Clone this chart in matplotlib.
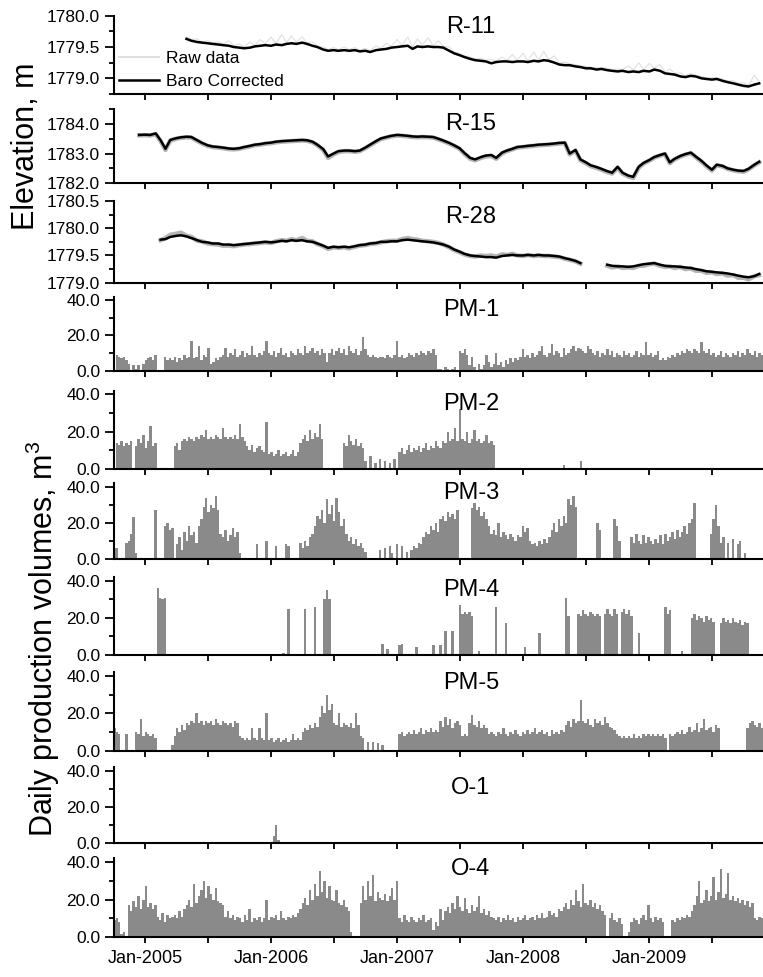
import numpy as np
import pandas as pd
import matplotlib
matplotlib.use('Agg')
from matplotlib import pyplot as plt
from matplotlib.ticker import MultipleLocator, FormatStrFormatter

plt.rcParams['font.family'] = ['Liberation Sans', 'DejaVu Sans']
plt.rcParams['mathtext.fontset'] = 'custom'
plt.rcParams['mathtext.rm'] = 'Liberation Sans'

# ---------------------------------------------------------------- water levels
# semi-monthly readings (1st and 15th of each month), elevation in m
r11_start, r11_end = '2005-05-01', '2009-11-15'
r11_baro = [
    1779.63, 1779.60, 1779.58, 1779.57, 1779.56, 1779.55, 1779.54, 1779.53, 1779.52, 1779.50, 1779.49, 1779.48,
    1779.49, 1779.51, 1779.52, 1779.53,
    1779.52, 1779.54, 1779.53, 1779.55, 1779.56, 1779.55, 1779.57, 1779.55, 1779.52, 1779.50, 1779.46, 1779.44,
    1779.45, 1779.44, 1779.45, 1779.44, 1779.45, 1779.43, 1779.44, 1779.42, 1779.45, 1779.46, 1779.47, 1779.49,
    1779.50, 1779.51, 1779.52, 1779.47, 1779.51, 1779.50, 1779.51, 1779.50, 1779.50, 1779.49, 1779.44, 1779.40,
    1779.37, 1779.34, 1779.31, 1779.29, 1779.28, 1779.27, 1779.24, 1779.26, 1779.27, 1779.27, 1779.26, 1779.27,
    1779.27, 1779.26, 1779.28, 1779.27, 1779.29, 1779.28, 1779.25, 1779.22, 1779.21, 1779.21, 1779.19, 1779.18,
    1779.16, 1779.16, 1779.14, 1779.15, 1779.13, 1779.12, 1779.11, 1779.12, 1779.10, 1779.11, 1779.10, 1779.12,
    1779.11, 1779.14, 1779.12, 1779.08, 1779.07, 1779.06, 1779.03, 1779.02, 1779.04, 1779.03, 1779.00, 1778.99,
    1778.98, 1778.99, 1778.96, 1778.94, 1778.92, 1778.90, 1778.88, 1778.87, 1778.90, 1778.92,
]
r11_raw = [
    1779.66, 1779.62, 1779.63, 1779.58, 1779.60, 1779.57, 1779.58, 1779.55, 1779.60, 1779.52, 1779.55, 1779.50,
    1779.58, 1779.53, 1779.62, 1779.55,
    1779.66, 1779.56, 1779.70, 1779.57, 1779.68, 1779.58, 1779.66, 1779.57, 1779.58, 1779.52, 1779.50, 1779.46,
    1779.49, 1779.46, 1779.50, 1779.46, 1779.49, 1779.45, 1779.48, 1779.44, 1779.52, 1779.48, 1779.56, 1779.51,
    1779.62, 1779.53, 1779.66, 1779.50, 1779.63, 1779.53, 1779.65, 1779.52, 1779.60, 1779.51, 1779.50, 1779.42,
    1779.40, 1779.36, 1779.34, 1779.31, 1779.32, 1779.29, 1779.30, 1779.28, 1779.34, 1779.29, 1779.38, 1779.29,
    1779.40, 1779.28, 1779.42, 1779.29, 1779.43, 1779.30, 1779.36, 1779.24, 1779.26, 1779.23, 1779.22, 1779.20,
    1779.19, 1779.18, 1779.17, 1779.17, 1779.16, 1779.14, 1779.15, 1779.14, 1779.20, 1779.13, 1779.25, 1779.14,
    1779.24, 1779.16, 1779.22, 1779.10, 1779.15, 1779.08, 1779.09, 1779.04, 1779.08, 1779.05, 1779.03, 1779.01,
    1779.01, 1779.01, 1778.99, 1778.96, 1778.96, 1778.92, 1778.93, 1778.89, 1779.05, 1778.94,
]

r15_start, r15_end = '2004-12-15', '2009-11-15'
r15_baro = [
    1783.63,
    1783.64, 1783.63, 1783.68, 1783.45, 1783.16, 1783.46, 1783.52, 1783.55, 1783.57, 1783.56, 1783.45, 1783.36,
    1783.28, 1783.24, 1783.22, 1783.20, 1783.17, 1783.16, 1783.18, 1783.22, 1783.26, 1783.30, 1783.32, 1783.35,
    1783.37, 1783.40, 1783.42, 1783.43, 1783.44, 1783.45, 1783.46, 1783.45, 1783.40, 1783.30, 1783.15, 1782.90,
    1783.00, 1783.08, 1783.10, 1783.10, 1783.08, 1783.10, 1783.20, 1783.30, 1783.42, 1783.51, 1783.56, 1783.60,
    1783.63, 1783.62, 1783.60, 1783.58, 1783.57, 1783.58, 1783.57, 1783.56, 1783.50, 1783.44, 1783.36, 1783.28,
    1783.18, 1783.02, 1782.85, 1782.80, 1782.88, 1782.93, 1782.95, 1782.85, 1783.03, 1783.10, 1783.16, 1783.22,
    1783.24, 1783.26, 1783.28, 1783.30, 1783.31, 1783.32, 1783.34, 1783.36, 1783.37, 1783.00, 1783.12, 1782.80,
    1782.70, 1782.60, 1782.54, 1782.48, 1782.40, 1782.35, 1782.55, 1782.35, 1782.25, 1782.21, 1782.55, 1782.68,
    1782.78, 1782.88, 1782.95, 1783.00, 1782.70, 1782.82, 1782.92, 1782.98, 1783.03, 1782.90, 1782.75, 1782.60,
    1782.45, 1782.62, 1782.58, 1782.50, 1782.45, 1782.42, 1782.41, 1782.48, 1782.62, 1782.72,
]
r15_raw = [
    1783.62,
    1783.62, 1783.61, 1783.66, 1783.42, 1783.12, 1783.44, 1783.50, 1783.53, 1783.55, 1783.54, 1783.43, 1783.34,
    1783.26, 1783.22, 1783.20, 1783.18, 1783.15, 1783.14, 1783.16, 1783.20, 1783.24, 1783.28, 1783.30, 1783.33,
    1783.35, 1783.38, 1783.40, 1783.41, 1783.42, 1783.43, 1783.44, 1783.43, 1783.38, 1783.28, 1783.12, 1782.85,
    1782.97, 1783.05, 1783.08, 1783.08, 1783.06, 1783.08, 1783.18, 1783.28, 1783.40, 1783.49, 1783.54, 1783.58,
    1783.61, 1783.60, 1783.58, 1783.56, 1783.55, 1783.56, 1783.55, 1783.54, 1783.48, 1783.42, 1783.34, 1783.26,
    1783.16, 1782.99, 1782.82, 1782.77, 1782.85, 1782.90, 1782.92, 1782.82, 1783.00, 1783.08, 1783.14, 1783.20,
    1783.22, 1783.24, 1783.26, 1783.28, 1783.29, 1783.30, 1783.32, 1783.34, 1783.35, 1782.97, 1783.10, 1782.77,
    1782.67, 1782.57, 1782.51, 1782.45, 1782.37, 1782.32, 1782.52, 1782.32, 1782.22, 1782.17, 1782.52, 1782.66,
    1782.76, 1782.86, 1782.93, 1782.98, 1782.67, 1782.80, 1782.90, 1782.96, 1783.01, 1782.88, 1782.72, 1782.57,
    1782.42, 1782.60, 1782.56, 1782.48, 1782.43, 1782.40, 1782.38, 1782.46, 1782.60, 1782.70,
]

nan = np.nan
r28_start, r28_end = '2005-02-15', '2009-11-15'
r28_baro = [
    1779.79, 1779.80, 1779.84, 1779.86, 1779.87, 1779.85, 1779.82, 1779.78, 1779.75, 1779.74, 1779.72, 1779.72,
    1779.70, 1779.70, 1779.69, 1779.70, 1779.71, 1779.72, 1779.73, 1779.74, 1779.75,
    1779.74, 1779.75, 1779.77, 1779.76, 1779.78, 1779.77, 1779.78, 1779.76, 1779.75, 1779.72, 1779.68, 1779.64,
    1779.66, 1779.65, 1779.66, 1779.65, 1779.67, 1779.69, 1779.70, 1779.72, 1779.73, 1779.75, 1779.75, 1779.76,
    1779.76, 1779.78, 1779.79, 1779.78, 1779.77, 1779.76, 1779.75, 1779.74, 1779.72, 1779.70, 1779.66, 1779.61,
    1779.57, 1779.53, 1779.50, 1779.49, 1779.48, 1779.47, 1779.47, 1779.46, 1779.49, 1779.50, 1779.51, 1779.50,
    1779.50, 1779.51, 1779.50, 1779.51, 1779.50, 1779.50, 1779.49, 1779.48, 1779.45, 1779.43, 1779.40, 1779.36,
    nan, nan, nan, nan, 1779.33, 1779.31, 1779.30, 1779.30, 1779.29, 1779.30, 1779.32, 1779.34,
    1779.35, 1779.36, 1779.33, 1779.31, 1779.30, 1779.30, 1779.29, 1779.28, 1779.27, 1779.25, 1779.23, 1779.21,
    1779.20, 1779.19, 1779.18, 1779.17, 1779.15, 1779.13, 1779.11, 1779.10, 1779.12, 1779.16,
]
r28_raw = [
    1779.78, 1779.82, 1779.88, 1779.90, 1779.92, 1779.86, 1779.84, 1779.77, 1779.76, 1779.72, 1779.71, 1779.70,
    1779.68, 1779.68, 1779.67, 1779.69, 1779.70, 1779.71, 1779.72, 1779.73, 1779.74,
    1779.73, 1779.76, 1779.78, 1779.77, 1779.80, 1779.78, 1779.82, 1779.77, 1779.76, 1779.71, 1779.67, 1779.62,
    1779.65, 1779.64, 1779.65, 1779.63, 1779.66, 1779.68, 1779.69, 1779.71, 1779.72, 1779.74, 1779.76, 1779.77,
    1779.77, 1779.80, 1779.82, 1779.80, 1779.79, 1779.77, 1779.76, 1779.75, 1779.73, 1779.70, 1779.65, 1779.60,
    1779.56, 1779.52, 1779.49, 1779.48, 1779.50, 1779.49, 1779.50, 1779.48, 1779.52, 1779.51, 1779.53, 1779.50,
    1779.49, 1779.51, 1779.49, 1779.50, 1779.49, 1779.49, 1779.48, 1779.47, 1779.44, 1779.42, 1779.39, 1779.35,
    nan, nan, nan, nan, 1779.31, 1779.28, 1779.30, 1779.27, 1779.28, 1779.27, 1779.31, 1779.31,
    1779.34, 1779.35, 1779.31, 1779.29, 1779.30, 1779.27, 1779.29, 1779.25, 1779.26, 1779.22, 1779.22, 1779.18,
    1779.19, 1779.16, 1779.17, 1779.13, 1779.14, 1779.09, 1779.09, 1779.06, 1779.12, 1779.14,
]

# ---------------------------------------------------------------- production
# weekly values (m3/day), first week starts 2004-10-04, 269 weeks
WEEK0, WEEK_END = '2004-10-04', '2009-11-24'
pm1 = [
    0, 9, 8, 7, 8, 6, 4, 0, 3, 1, 3, 0, 4,
    6, 7, 8, 6, 9, 0, 0, 0, 8, 6, 7, 6, 8,
    5, 7, 6, 9, 7, 8, 17, 7, 8, 14, 6, 9, 8,
    13, 4, 5, 7, 6, 8, 9, 13, 8, 10, 9, 12, 8,
    9, 11, 8, 10, 9, 14, 9, 8, 10, 9, 11, 17, 10,
    9, 11, 8, 10, 13, 9, 10, 8, 11, 10, 9, 12, 10,
    9, 14, 10, 11, 13, 10, 11, 9, 12, 10, 5, 10, 12,
    9, 11, 13, 10, 12, 9, 14, 11, 10, 12, 9, 11, 19,
    12, 9, 8, 9, 8, 7, 8, 8, 7, 9, 8, 7, 9,
    17, 8, 9, 7, 8, 10, 9, 8, 10, 9, 11, 10, 9,
    11, 10, 12, 9, 1, 1, 0, 2, 1, 0, 1, 2, 0,
    11, 10, 12, 9, 3, 8, 2, 0, 4, 1, 3, 9, 5,
    2, 4, 10, 3, 5, 2, 6, 4, 7, 5, 7, 6, 8,
    12, 8, 9, 7, 10, 8, 9, 11, 14, 9, 8, 10, 15,
    9, 11, 10, 8, 13, 9, 10, 12, 14, 11, 13, 12, 11,
    10, 14, 12, 10, 9, 11, 8, 10, 9, 12, 9, 11, 8,
    10, 9, 8, 11, 9, 10, 8, 9, 11, 8, 10, 9, 16,
    9, 10, 8, 9, 11, 6, 7, 6, 8, 7, 9, 8, 10,
    9, 11, 10, 12, 11, 10, 12, 11, 10, 16, 11, 10, 12,
    9, 10, 8, 9, 11, 8, 10, 9, 8, 10, 9, 11, 8,
    10, 9, 12, 10, 9, 11, 8, 10, 9,
]
pm2 = [
    0, 14, 13, 15, 12, 14, 13, 15, 0, 12, 16, 14, 18,
    11, 15, 23, 12, 14, 0, 0, 0, 0, 0, 0, 0, 12,
    14, 10, 15, 16, 15, 17, 16, 15, 17, 16, 18, 17, 21,
    16, 17, 16, 18, 17, 16, 22, 17, 16, 17, 16, 18, 16,
    24, 17, 15, 12, 10, 13, 9, 11, 12, 10, 9, 25, 8,
    9, 7, 8, 10, 7, 8, 9, 7, 8, 10, 7, 9, 14,
    16, 18, 15, 21, 16, 19, 17, 24, 16, 0, 0, 0, 0,
    0, 0, 0, 0, 14, 12, 18, 15, 13, 16, 12, 14, 11,
    4, 0, 7, 0, 3, 0, 5, 0, 4, 0, 3, 0, 5,
    0, 9, 11, 8, 10, 13, 9, 11, 10, 12, 9, 11, 14,
    10, 12, 11, 15, 12, 11, 15, 14, 20, 15, 16, 22, 15,
    32, 16, 15, 20, 14, 16, 21, 15, 16, 14, 15, 18, 14,
    15, 13, 0, 0, 0, 0, 0, 0, 0, 0, 0, 0, 0,
    0, 0, 0, 0, 0, 0, 0, 0, 0, 0, 0, 0, 0,
    0, 0, 0, 0, 2, 0, 0, 0, 0, 0, 0, 4, 0,
    0, 0, 0, 0, 0, 0, 0, 0, 0, 0, 0, 0, 0,
    0, 0, 0, 0, 0, 0, 0, 0, 0, 0, 0, 0, 0,
    0, 0, 0, 0, 0, 0, 0, 0, 0, 0, 0, 0, 0,
    0, 0, 0, 0, 0, 0, 0, 0, 0, 0, 0, 0, 0,
    0, 0, 0, 0, 0, 0, 0, 0, 0, 0, 0, 0, 0,
    0, 0, 0, 0, 0, 0, 0, 0, 0,
]
pm3 = [
    6, 6, 0, 0, 0, 9, 10, 14, 23, 3, 0, 0, 0,
    0, 0, 0, 0, 27, 0, 0, 0, 18, 20, 16, 17, 0,
    8, 12, 5, 15, 10, 18, 13, 15, 9, 18, 22, 29, 34,
    26, 30, 28, 35, 27, 14, 12, 16, 10, 13, 17, 12, 15,
    3, 0, 0, 0, 0, 0, 0, 8, 0, 0, 0, 10, 0,
    0, 0, 7, 0, 0, 0, 8, 7, 0, 0, 0, 0, 9,
    6, 10, 7, 12, 14, 18, 24, 22, 27, 20, 33, 25, 30,
    21, 34, 26, 18, 22, 14, 10, 12, 8, 11, 7, 9, 6,
    4, 0, 0, 0, 0, 0, 5, 0, 6, 0, 7, 3, 0,
    8, 0, 7, 0, 4, 0, 5, 7, 6, 9, 8, 12, 15,
    14, 18, 16, 20, 15, 22, 24, 21, 26, 23, 25, 22, 27,
    0, 0, 0, 0, 0, 28, 31, 27, 29, 24, 26, 22, 18,
    14, 16, 13, 20, 12, 15, 13, 11, 14, 12, 10, 13, 12,
    18, 15, 17, 10, 8, 9, 7, 10, 8, 11, 9, 12, 16,
    20, 15, 22, 18, 24, 20, 33, 30, 35, 29, 0, 0, 0,
    0, 0, 0, 0, 0, 20, 16, 0, 0, 0, 0, 0, 22,
    18, 10, 0, 0, 0, 0, 12, 9, 14, 10, 8, 13, 9,
    12, 10, 8, 11, 9, 13, 8, 14, 10, 12, 15, 11, 16,
    12, 15, 18, 14, 20, 22, 31, 0, 0, 0, 0, 0, 0,
    14, 22, 30, 18, 9, 12, 0, 9, 0, 11, 0, 8, 10,
    0, 3, 0, 0, 0, 0, 0, 0, 0,
]
pm4 = [
    0, 0, 0, 0, 0, 0, 0, 0, 0, 0, 0, 0, 0,
    0, 0, 0, 0, 0, 36, 31, 30, 31, 0, 0, 0, 0,
    0, 0, 0, 0, 0, 0, 0, 0, 0, 0, 0, 0, 0,
    0, 0, 0, 0, 0, 0, 0, 0, 0, 0, 0, 0, 0,
    0, 0, 0, 0, 0, 0, 0, 0, 0, 0, 0, 0, 0,
    0, 0, 0, 0, 0, 1, 0, 25, 0, 0, 0, 0, 0,
    0, 25, 0, 0, 0, 26, 0, 0, 0, 30, 35, 30, 0,
    0, 0, 0, 0, 0, 0, 0, 0, 0, 0, 0, 0, 0,
    0, 0, 0, 0, 0, 0, 0, 6, 0, 3, 0, 0, 0,
    0, 5, 6, 0, 0, 0, 0, 0, 4, 0, 0, 0, 0,
    0, 0, 5, 0, 0, 5, 0, 13, 0, 0, 13, 0, 0,
    27, 22, 23, 22, 23, 21, 0, 0, 2, 0, 0, 0, 0,
    0, 0, 26, 0, 0, 0, 17, 0, 0, 0, 0, 0, 0,
    0, 4, 0, 0, 0, 0, 0, 12, 0, 0, 0, 0, 0,
    0, 0, 0, 0, 0, 31, 21, 0, 0, 0, 22, 21, 24,
    22, 21, 23, 22, 21, 22, 21, 0, 22, 25, 22, 21, 25,
    22, 0, 23, 25, 22, 24, 21, 0, 0, 12, 0, 0, 0,
    0, 0, 0, 0, 0, 0, 0, 26, 22, 24, 0, 0, 0,
    0, 2, 0, 0, 0, 20, 22, 19, 21, 20, 18, 21, 19,
    20, 18, 0, 0, 17, 20, 18, 19, 17, 20, 18, 17, 19,
    16, 18, 17, 0, 0, 0, 0, 0, 0,
]
pm5 = [
    12, 10, 9, 0, 0, 9, 0, 0, 0, 10, 9, 17, 8,
    10, 9, 8, 9, 7, 0, 0, 0, 0, 0, 0, 3, 8,
    12, 10, 14, 11, 15, 14, 16, 15, 20, 15, 16, 14, 16,
    15, 16, 14, 17, 15, 14, 16, 15, 14, 15, 13, 16, 15,
    8, 7, 6, 7, 6, 12, 7, 6, 12, 7, 6, 20, 6,
    7, 5, 6, 7, 5, 6, 7, 5, 6, 9, 6, 7, 6,
    10, 12, 11, 14, 12, 15, 13, 18, 24, 20, 30, 22, 25,
    15, 14, 20, 13, 15, 14, 13, 15, 12, 20, 14, 8, 7,
    0, 5, 0, 5, 0, 4, 0, 3, 0, 0, 0, 0, 0,
    0, 9, 10, 8, 9, 10, 9, 11, 9, 10, 12, 9, 11,
    10, 12, 10, 11, 10, 16, 13, 18, 14, 17, 12, 15, 16,
    14, 8, 9, 8, 15, 19, 14, 13, 16, 12, 14, 12, 9,
    10, 9, 8, 10, 9, 12, 9, 8, 10, 9, 11, 9, 8,
    10, 9, 11, 9, 10, 12, 9, 10, 11, 9, 10, 8, 11,
    9, 10, 9, 11, 10, 14, 16, 13, 17, 15, 16, 27, 16,
    15, 17, 14, 13, 17, 15, 16, 14, 18, 15, 13, 12, 11,
    9, 8, 7, 8, 7, 8, 7, 9, 7, 8, 7, 9, 8,
    9, 8, 9, 8, 9, 8, 9, 7, 0, 9, 8, 9, 10,
    9, 11, 9, 10, 13, 10, 11, 15, 10, 12, 17, 11, 12,
    13, 10, 14, 12, 0, 0, 0, 0, 0, 0, 0, 0, 0,
    0, 0, 12, 15, 16, 14, 13, 15, 12,
]
o1 = [
    0, 0, 0, 0, 0, 0, 0.4, 0, 0, 0, 0, 0, 0,
    0, 0, 0, 0, 0, 0, 0, 0, 0, 0, 0, 0.4, 0,
    0, 0, 0, 0, 0, 0, 0, 0, 0, 0, 0, 0, 0,
    0, 0, 0, 0, 0, 0, 0.4, 0, 0, 0, 0, 0, 0,
    0, 0, 0, 0, 0, 0, 0, 0, 0, 0, 0, 0, 0,
    0, 4, 10, 2, 0, 0, 0, 0, 0, 0, 0, 0, 0,
    0, 0, 0, 0, 0, 0, 0, 0, 0, 0, 0, 0, 0,
    0, 0, 0, 0, 0, 0, 0, 0, 0, 0, 0, 0, 0,
    0, 0, 0, 0, 0, 0, 0, 0, 0, 0, 0, 0, 0,
    0, 0, 0, 0, 0, 0, 0, 0, 0, 0, 0, 0, 0,
    0, 0, 0, 0, 0, 0, 0, 0, 0, 0, 0, 0, 0,
    0, 0, 0, 0, 0, 0, 0, 0, 0, 0, 0, 0, 0,
    0, 0, 0, 0, 0, 0, 0, 0, 0, 0, 0, 0, 0,
    0, 0, 0, 0, 0, 0, 0, 0, 0, 0, 0, 0, 0,
    0, 0, 0, 0, 0, 0, 0, 0, 0, 0, 0, 0, 0,
    0, 0, 0, 0, 0, 0, 0, 0, 0, 0, 0, 0, 0,
    0, 0, 0, 0, 0, 0, 0, 0, 0, 0, 0, 0, 0,
    0, 0, 0, 0, 0, 0, 0, 0, 0, 0, 0, 0, 0,
    0, 0, 0, 0, 0, 0, 0, 0, 0, 0, 0, 0, 0,
    0, 0, 0, 0, 0, 0, 0, 0, 0, 0, 0, 0, 0,
    0, 0, 0, 0, 0, 0, 0, 0, 0,
]
o4 = [
    9, 10, 8, 2, 3, 0, 17, 14, 19, 16, 22, 15, 20,
    27, 16, 18, 15, 17, 11, 9, 13, 8, 12, 10, 11, 12,
    10, 14, 11, 15, 17, 20, 16, 28, 18, 22, 25, 30, 21,
    27, 23, 20, 26, 19, 18, 17, 11, 14, 10, 12, 9, 11,
    10, 8, 12, 9, 15, 8, 10, 9, 11, 8, 10, 20, 9,
    11, 10, 12, 9, 14, 10, 9, 11, 10, 12, 11, 13, 15,
    18, 21, 17, 25, 20, 28, 22, 35, 24, 30, 21, 27, 20,
    19, 25, 18, 17, 20, 16, 14, 3, 0, 0, 0, 18, 27,
    20, 30, 22, 33, 19, 24, 21, 20, 23, 19, 22, 26, 20,
    30, 10, 8, 12, 9, 8, 11, 9, 8, 10, 9, 12, 8,
    9, 10, 4, 8, 6, 15, 9, 14, 16, 13, 18, 15, 22,
    16, 14, 21, 15, 13, 17, 14, 16, 22, 13, 15, 12, 14,
    11, 10, 9, 11, 8, 10, 9, 12, 9, 10, 8, 11, 9,
    10, 12, 9, 10, 11, 9, 12, 10, 13, 10, 11, 14, 12,
    13, 11, 15, 14, 16, 18, 15, 20, 17, 25, 19, 16, 28,
    18, 17, 20, 16, 18, 15, 17, 14, 12, 0, 10, 13, 9,
    8, 10, 7, 0, 0, 3, 8, 10, 9, 7, 10, 12, 9,
    17, 10, 8, 11, 9, 10, 8, 0, 0, 0, 9, 8, 10,
    9, 11, 10, 12, 11, 14, 17, 22, 30, 18, 20, 25, 19,
    22, 32, 20, 24, 36, 21, 23, 34, 20, 22, 19, 21, 18,
    20, 17, 19, 16, 18, 10, 9, 11, 10,
]

well_names = ['R-11', 'R-15', 'R-28']
pump_names = ['PM-1', 'PM-2', 'PM-3', 'PM-4', 'PM-5', 'O-1', 'O-4']

# ---------------------------------------------------------------- layout (pixels)
W, H = 763, 977
AX_LEFT, AX_RIGHT = 114, 763
# (top, bottom) of each panel, in pixels from the top of the figure
panel_px = [(15.7, 94.0), (109.3, 183.0), (201.0, 282.7), (296.5, 370.7), (390.6, 468.7),
            (483.1, 558.7), (577.3, 654.7), (672.0, 751.0), (767.0, 843.3), (858.0, 937.3)]
title_off_px = [11, 15, 16, 14, 13, 10, 13, 11, 21, 11]
XLIM = (np.datetime64('2004-10-03'), np.datetime64('2009-11-26'))

tick_dates = pd.date_range('2005-01-01', '2009-07-01', freq='6MS').to_pydatetime()
tick_labels = [d.strftime('Jan-%Y') if d.month == 1 else '' for d in tick_dates]

fig = plt.figure(figsize=(W / 100, H / 100), dpi=100)


def make_axes(i):
    top, bottom = panel_px[i]
    ax = fig.add_axes([AX_LEFT / W, 1 - bottom / H, (AX_RIGHT - AX_LEFT) / W, (bottom - top) / H])
    ax.spines['top'].set_visible(False)
    ax.spines['right'].set_visible(False)
    ax.spines['left'].set_linewidth(1.5)
    ax.spines['bottom'].set_linewidth(1.5)
    ax.set_xlim(*XLIM)
    ax.set_xticks(tick_dates)
    ax.set_xticklabels(tick_labels if i == len(panel_px) - 1 else [''] * len(tick_dates))
    ax.tick_params(axis='x', direction='out', length=4, width=1.3, pad=5.5, labelsize=13)
    ax.tick_params(axis='y', which='major', direction='out', length=6.5, width=1.3, pad=3.5, labelsize=12.5)
    ax.tick_params(axis='y', which='minor', direction='out', length=3.5, width=1.3)
    ax.yaxis.set_major_formatter(FormatStrFormatter('%.1f'))
    ax.patch.set_alpha(0)
    h_px = bottom - top
    ax.text(0.55, 1 - title_off_px[i] / h_px, (well_names + pump_names)[i],
            transform=ax.transAxes, ha='center', va='center', fontsize=17)
    return ax


# water level panels
level_series = [
    (r11_start, r11_end, r11_baro, r11_raw, (1778.75, 1780.0), [1779.0, 1779.5, 1780.0], 0.25),
    (r15_start, r15_end, r15_baro, r15_raw, (1782.0, 1784.5), [1782.0, 1783.0, 1784.0], 0.5),
    (r28_start, r28_end, r28_baro, r28_raw, (1779.0, 1780.5), [1779.0, 1779.5, 1780.0, 1780.5], 0.25),
]
for i, (start, end, baro, raw, ylim, yt, minor) in enumerate(level_series):
    ax = make_axes(i)
    dates = pd.date_range(start, end, freq='SMS')
    if i == 0:
        ax.plot(dates, np.array(raw, dtype=float), color='#e0e0e0', lw=0.8, label='Raw data')
    else:
        ax.plot(dates, np.array(raw, dtype=float), color='#b5b5b5', lw=3.2)
    ax.plot(dates, np.array(baro, dtype=float), color='black', lw=1.8, label='Baro Corrected')
    ax.set_ylim(*ylim)
    ax.set_yticks(yt)
    ax.yaxis.set_minor_locator(MultipleLocator(minor))
    if i == 0:
        leg = ax.legend(loc='lower left', bbox_to_anchor=(0.0, 0.0), frameon=False, fontsize=12.5,
                        handlelength=2.3, handletextpad=0.4, labelspacing=0.45,
                        borderpad=0.3, borderaxespad=0.0)
        leg.get_lines()[0].set_linewidth(1.5)

# production panels
weeks = np.arange(np.datetime64(WEEK0), np.datetime64(WEEK_END), np.timedelta64(7, 'D'))
for j, vals in enumerate([pm1, pm2, pm3, pm4, pm5, o1, o4]):
    ax = make_axes(3 + j)
    ax.bar(weeks, vals, width=7, color='#8a8a8a', linewidth=0, antialiased=False)
    ax.set_ylim(0, 42)
    ax.set_yticks([0, 20, 40])
    ax.yaxis.set_minor_locator(MultipleLocator(10))

fig.text(26 / W, 1 - 146.5 / H, 'Elevation, m', rotation=90, ha='center', va='center', fontsize=22)
fig.text(43 / W, 1 - 639 / H, 'Daily production volumes, m$^3$', rotation=90,
         ha='center', va='center', fontsize=22)

fig.savefig('out.png', dpi=100)
